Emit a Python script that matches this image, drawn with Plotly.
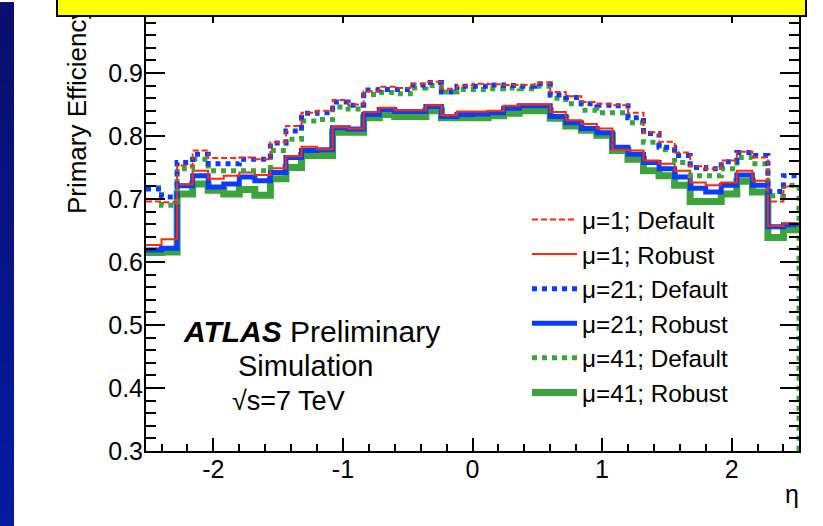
import numpy as np
import plotly.graph_objects as go

# ---------------- data ----------------
eta_min, eta_max, n_bins = -2.52, 2.52, 42
bin_edges = np.linspace(eta_min, eta_max, n_bins + 1)

mu1_default = [0.696, 0.695, 0.753, 0.777, 0.765, 0.765, 0.766, 0.763, 0.790, 0.816,
               0.837, 0.840, 0.857, 0.850, 0.871, 0.878, 0.876, 0.883, 0.886, 0.875,
               0.880, 0.883, 0.882, 0.881, 0.881, 0.885, 0.870, 0.863, 0.854, 0.851,
               0.849, 0.837, 0.806, 0.791, 0.774, 0.752, 0.748, 0.761, 0.775, 0.766,
               0.696, 0.720]
mu1_robust = [0.627, 0.636, 0.723, 0.745, 0.732, 0.737, 0.742, 0.738, 0.749, 0.768,
              0.783, 0.779, 0.814, 0.812, 0.838, 0.845, 0.841, 0.841, 0.849, 0.833,
              0.839, 0.839, 0.840, 0.848, 0.850, 0.850, 0.838, 0.825, 0.819, 0.812,
              0.778, 0.777, 0.761, 0.756, 0.745, 0.726, 0.722, 0.726, 0.745, 0.729,
              0.657, 0.661]
mu21_default = [0.716, 0.703, 0.758, 0.771, 0.756, 0.756, 0.763, 0.763, 0.789, 0.808,
                0.836, 0.837, 0.854, 0.849, 0.873, 0.874, 0.874, 0.881, 0.885, 0.870,
                0.879, 0.879, 0.881, 0.880, 0.879, 0.883, 0.865, 0.861, 0.851, 0.849,
                0.848, 0.829, 0.804, 0.782, 0.769, 0.750, 0.748, 0.759, 0.774, 0.769,
                0.712, 0.737]
mu21_robust = [0.619, 0.622, 0.721, 0.737, 0.719, 0.724, 0.735, 0.729, 0.742, 0.766,
               0.777, 0.778, 0.813, 0.811, 0.834, 0.842, 0.839, 0.839, 0.847, 0.831,
               0.834, 0.835, 0.837, 0.844, 0.848, 0.848, 0.831, 0.821, 0.812, 0.805,
               0.782, 0.771, 0.758, 0.748, 0.735, 0.717, 0.711, 0.722, 0.738, 0.722,
               0.656, 0.659]
mu41_default = [0.718, 0.690, 0.748, 0.763, 0.745, 0.745, 0.745, 0.745, 0.777, 0.795,
                0.824, 0.826, 0.846, 0.843, 0.866, 0.869, 0.867, 0.876, 0.880, 0.870,
                0.874, 0.874, 0.875, 0.876, 0.875, 0.879, 0.860, 0.851, 0.841, 0.837,
                0.837, 0.821, 0.790, 0.778, 0.758, 0.737, 0.737, 0.748, 0.766, 0.756,
                0.705, 0.722]
mu41_robust = [0.615, 0.616, 0.708, 0.724, 0.714, 0.708, 0.715, 0.706, 0.732, 0.750,
               0.769, 0.769, 0.806, 0.806, 0.829, 0.834, 0.831, 0.831, 0.840, 0.829,
               0.829, 0.829, 0.832, 0.836, 0.840, 0.840, 0.828, 0.816, 0.809, 0.801,
               0.777, 0.763, 0.745, 0.737, 0.722, 0.696, 0.696, 0.708, 0.728, 0.711,
               0.639, 0.651]

x_tick_vals = [-2, -1, 0, 1, 2]
x_tick_text = ["-2", "-1", "0", "1", "2"]
y_tick_vals = [0.3, 0.4, 0.5, 0.6, 0.7, 0.8, 0.9, 1.0]
y_tick_text = ["0.3", "0.4", "0.5", "0.6", "0.7", "0.8", "0.9", "1"]
y_min, y_max = 0.3, 1.0

# ---------------- layout geometry ----------------
W, H = 823, 526
L, R, T, B = 146, 24, 8, 75
PW, PH = W - L - R, H - T - B
FONT = "Liberation Sans, Arial, Helvetica, sans-serif"

def px(xp):
    return (xp - L) / PW

def py(yp):
    return (H - B - yp) / PH

RED = "#ff2a0a"
BLUE = "#0a3cff"
GREEN = "#3da33d"

def step_xy(vals, close_to=None):
    xs = list(bin_edges[:-1]) + [bin_edges[-1]]
    ys = list(vals) + [vals[-1]]
    if close_to is not None:
        xs.append(bin_edges[-1])
        ys.append(close_to)
    return xs, ys

fig = go.Figure()

series = [
    # (values, name, color, width, dash, rank, close)
    (mu41_robust, "\u03bc=41; Robust", GREEN, 7, "solid", 6, None),
    (mu21_robust, "\u03bc=21; Robust", BLUE, 5, "solid", 4, None),
    (mu1_robust, "\u03bc=1; Robust", RED, 2, "solid", 2, None),
    (mu41_default, "\u03bc=41; Default", GREEN, 5, "5px,5px", 5, y_min),
    (mu21_default, "\u03bc=21; Default", BLUE, 5, "5px,5px", 3, None),
    (mu1_default, "\u03bc=1; Default", RED, 2, "6px,3px", 1, None),
]
for vals, name, col, w, dash, rank, close in series:
    xs, ys = step_xy(vals, close)
    fig.add_trace(go.Scatter(
        x=xs, y=ys, mode="lines", name=name, legendrank=rank,
        line=dict(color=col, width=w, dash=dash, shape="hv"),
        cliponaxis=close is None,
        hoverinfo="skip",
    ))

axis_common = dict(
    showgrid=False, zeroline=False, showline=True, linecolor="black",
    linewidth=2, mirror="ticks", ticks="inside", tickcolor="black",
    tickwidth=1.5, tickfont=dict(family=FONT, size=25, color="black"),
)

fig.update_xaxes(
    range=[eta_min, eta_max], tickmode="array", tickvals=x_tick_vals,
    ticktext=x_tick_text, ticklen=13, ticklabelstandoff=-5,
    minor=dict(tickmode="linear", tick0=0, dtick=0.2, ticklen=7,
               tickcolor="black", tickwidth=1.5, ticks="inside"),
    **axis_common,
)
fig.update_yaxes(
    range=[y_min, y_max], tickmode="array", tickvals=y_tick_vals,
    ticktext=y_tick_text, ticklen=19, ticklabelstandoff=-4,
    minor=dict(tickmode="linear", tick0=0, dtick=0.02, ticklen=10,
               tickcolor="black", tickwidth=1.5, ticks="inside"),
    **axis_common,
)

# left blue strip (gradient imitated with bands)
n_bands = 26
for i in range(n_bands):
    t = i / (n_bands - 1)
    r = int(10 + t * (4 - 10))
    g = int(14 + t * (28 - 14))
    b = int(108 + t * (162 - 108))
    y0 = H * i / n_bands
    y1 = H * (i + 1) / n_bands + 1
    fig.add_shape(type="rect", xref="paper", yref="paper",
                  x0=px(0), x1=px(14), y0=py(y1), y1=py(y0),
                  fillcolor=f"rgb({r},{g},{b})", line=dict(width=0),
                  layer="above")

annotations = []
# y-axis title (ROOT style, top aligned)
annotations.append(dict(
    text="Primary Efficiency", textangle=-90, xref="paper", yref="paper",
    x=px(77), y=py(215), xanchor="center", yanchor="bottom", showarrow=False,
    font=dict(family=FONT, size=26, color="black")))
# x-axis title
annotations.append(dict(
    text="\u03b7", xref="paper", yref="paper", x=px(801), y=py(494),
    xanchor="right", yanchor="middle", showarrow=False,
    font=dict(family=FONT, size=25, color="black")))
# ATLAS label
annotations.append(dict(
    text="<b><i>ATLAS</i></b> Preliminary", xref="paper", yref="paper",
    x=px(181), y=py(331), xanchor="left", yanchor="middle", showarrow=False,
    font=dict(family=FONT, size=30, color="black")))
annotations.append(dict(
    text="Simulation", xref="paper", yref="paper",
    x=px(236), y=py(366), xanchor="left", yanchor="middle", showarrow=False,
    font=dict(family=FONT, size=29, color="black")))
annotations.append(dict(
    text="\u221as=7 TeV", xref="paper", yref="paper",
    x=px(230), y=py(401), xanchor="left", yanchor="middle", showarrow=False,
    font=dict(family=FONT, size=27, color="black")))
# yellow title box (top, mostly cut off)
annotations.append(dict(
    text=" ", xref="paper", yref="paper", x=px(56), y=py(15),
    xanchor="left", yanchor="bottom", showarrow=False, width=747, height=40,
    bgcolor="#ffff00", bordercolor="black", borderwidth=2, borderpad=0,
    font=dict(family=FONT, size=20, color="black")))

fig.update_layout(
    width=W, height=H,
    margin=dict(l=L, r=R, t=T, b=B, pad=0),
    paper_bgcolor="white", plot_bgcolor="white",
    showlegend=True,
    legend=dict(x=px(527), y=py(196), xanchor="left", yanchor="top",
                bgcolor="rgba(0,0,0,0)", borderwidth=0,
                itemwidth=45,
                font=dict(family=FONT, size=24.3, color="black")),
    annotations=annotations,
)

fig.write_html("out.html")
